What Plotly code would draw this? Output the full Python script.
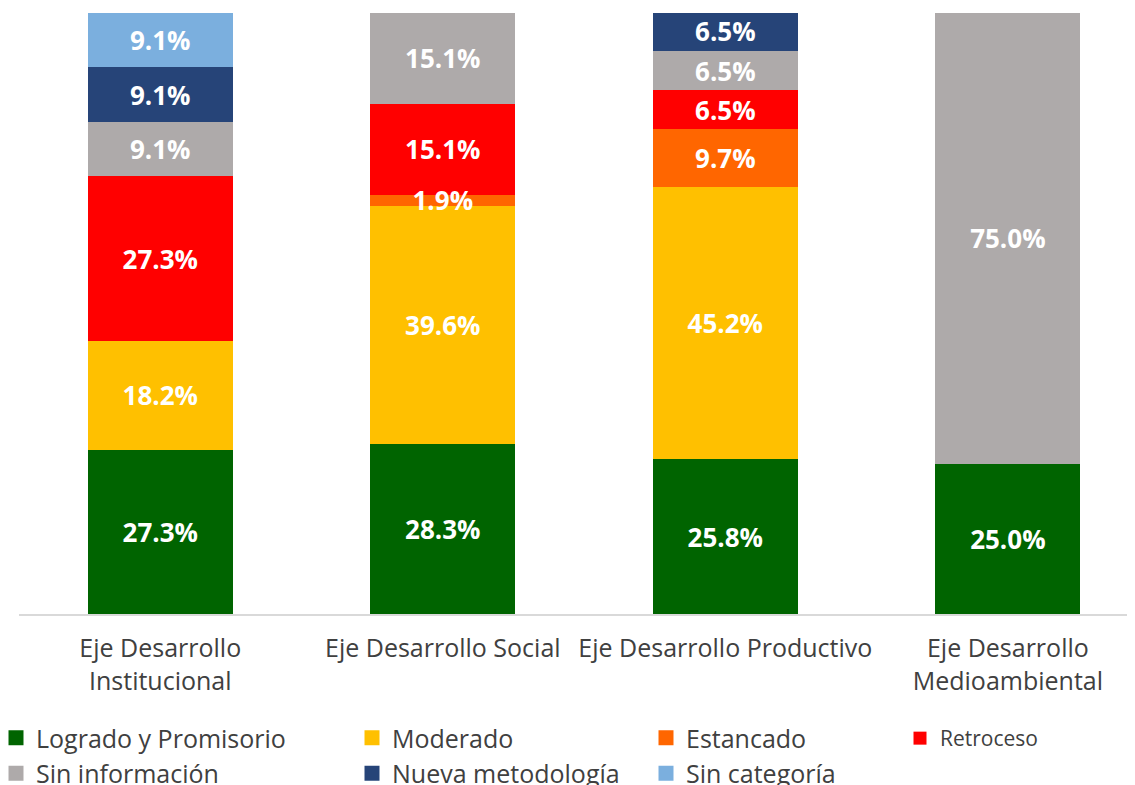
import plotly.graph_objects as go

categories = ["Eje Desarrollo<br>Institucional", "Eje Desarrollo Social",
              "Eje Desarrollo Productivo", "Eje Desarrollo<br>Medioambiental"]
series_names = ["Logrado y Promisorio", "Moderado", "Estancado", "Retroceso",
                "Sin información", "Nueva metodología", "Sin categoría"]
logrado = [27.3, 28.3, 25.8, 25.0]
moderado = [18.2, 39.6, 45.2, 0.0]
estancado = [0.0, 1.9, 9.7, 0.0]
retroceso = [27.3, 15.1, 6.5, 0.0]
sin_info = [9.1, 15.1, 6.5, 75.0]
nueva = [9.1, 0.0, 6.5, 0.0]
sin_cat = [9.1, 0.0, 0.0, 0.0]

series_values = [logrado, moderado, estancado, retroceso, sin_info, nueva, sin_cat]
colors = ["#006400", "#FFC000", "#FF6600", "#FF0000", "#AEAAAA", "#264478", "#7BAFDE"]
legend_ids = ["legend", "legend2", "legend3", "legend4", "legend", "legend2", "legend3"]

FONT = "Open Sans"
TXT = "#404040"
LABEL_DROP = 0.6  # small visual offset so labels sit optically centred
xpos = list(range(len(categories)))

fig = go.Figure()
bases = [0.0] * len(xpos)
label_x, label_y, label_t = [], [], []
for name, vals, col in zip(series_names, series_values, colors):
    fig.add_trace(go.Bar(
        x=xpos, y=vals, name=name, marker=dict(color=col, line=dict(width=0)),
        width=0.513, showlegend=False, hoverinfo="skip",
    ))
    for i, v in enumerate(vals):
        if v > 0:
            label_x.append(xpos[i])
            label_y.append(bases[i] + v / 2 - LABEL_DROP)
            label_t.append(f"{v:.1f}%")
        bases[i] += v

fig.add_trace(go.Scatter(
    x=label_x, y=label_y, text=label_t, mode="text", textposition="middle center",
    textfont=dict(color="white", size=26, family=FONT, weight="bold"),
    showlegend=False, hoverinfo="skip", cliponaxis=False,
))

for name, col, lg in zip(series_names, colors, legend_ids):
    fig.add_trace(go.Scatter(
        x=[None], y=[None], mode="markers", name=name,
        marker=dict(symbol="square", size=13 if lg == "legend4" else 15, color=col),
        legend=lg, showlegend=True,
    ))

W, H = 1127, 777
ML = 11
PW = W - ML
leg_common = dict(orientation="v", yref="container",
                  yanchor="top", xanchor="left", bgcolor="rgba(0,0,0,0)",
                  itemsizing="trace", tracegroupgap=0, traceorder="normal",
                  font=dict(family=FONT, size=25, color=TXT))
top_y = 1 - 707 / H
fig.update_layout(
    legend=dict(xref="paper", x=(-12 - ML) / PW, y=top_y, **leg_common),
    legend2=dict(xref="container", x=344 / W, y=top_y, **leg_common),
    legend3=dict(xref="container", x=638 / W, y=top_y, **leg_common),
    legend4=dict(xref="container", x=892 / W, y=1 - 710 / H,
                 **{**leg_common, "font": dict(family=FONT, size=21, color=TXT)}),
)

fig.update_layout(
    barmode="stack", width=W, height=H,
    margin=dict(l=ML, r=0, t=5, b=171, autoexpand=False),
    paper_bgcolor="white", plot_bgcolor="white",
    font=dict(family=FONT, color=TXT),
    xaxis=dict(type="linear", range=[-0.5, 3.45], tickvals=xpos, ticktext=categories,
               showgrid=False, zeroline=False, showline=True,
               linecolor="#D9D9D9", linewidth=2, ticks="", ticklabelstandoff=11,
               tickfont=dict(family=FONT, size=25, color=TXT)),
    yaxis=dict(type="linear", range=[0, 100], visible=False, showgrid=False),
)

fig.write_html("out.html")
